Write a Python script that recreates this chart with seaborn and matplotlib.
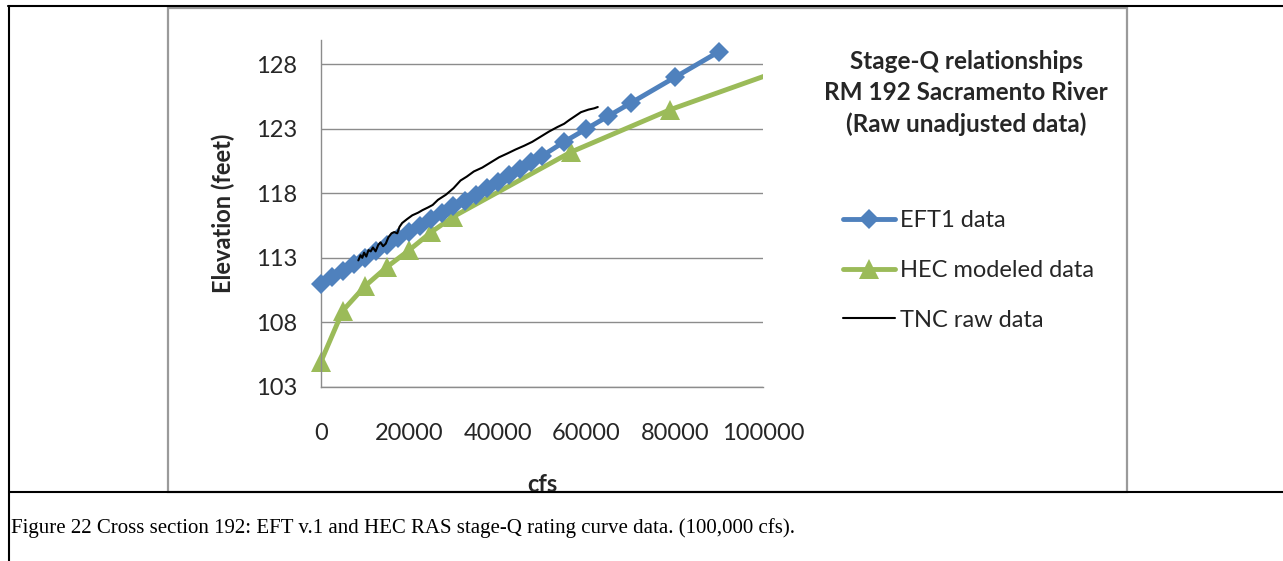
import matplotlib
matplotlib.use("Agg")
import matplotlib.pyplot as plt
from matplotlib.lines import Line2D
from matplotlib.patches import Rectangle
import seaborn as sns
import pandas as pd

# ---- data -------------------------------------------------------------
eft1_cfs = [0, 2500, 5000, 7500, 10000, 12500, 15000, 17500, 20000, 22500,
            25000, 27500, 30000, 32500, 35000, 37500, 40000, 42500, 45000,
            47500, 50000, 55000, 60000, 65000, 70000, 80000, 90000]
eft1_elev = [111.0, 111.5, 112.0, 112.5, 113.0, 113.5, 114.0, 114.5, 115.0,
             115.5, 116.0, 116.5, 117.0, 117.4, 117.9, 118.4, 118.9, 119.4,
             119.9, 120.4, 120.9, 122.0, 123.0, 124.0, 125.0, 127.0, 129.0]

hec_cfs = [0, 5000, 10000, 15000, 20000, 25000, 30000, 56500, 79000, 106000]
hec_elev = [104.9, 108.9, 110.8, 112.3, 113.6, 115.0, 116.2, 121.2, 124.5, 127.8]

tnc_cfs = [8500, 9000, 9400, 9800, 10300, 10800, 11300, 11800, 12400, 13000,
           13500, 14100, 14700, 15300, 16000, 16600, 17300, 17800, 18400,
           19500, 20700, 22000, 23000, 24200, 25300, 26500, 28300, 30000,
           31600, 33000, 34600, 36500, 38400, 40300, 42200, 44000, 46000,
           47800, 49700, 51600, 53500, 55000, 56200, 57500, 58800, 60500,
           61800, 62600]
tnc_elev = [112.8, 113.2, 113.0, 113.4, 113.1, 113.6, 113.5, 113.8, 113.5,
            114.0, 114.2, 113.9, 114.1, 114.6, 114.9, 115.0, 114.9, 115.4,
            115.7, 116.0, 116.3, 116.5, 116.7, 116.9, 117.1, 117.5, 117.9,
            118.4, 119.0, 119.3, 119.7, 120.0, 120.4, 120.8, 121.1, 121.4,
            121.7, 122.0, 122.4, 122.8, 123.15, 123.4, 123.7, 124.0, 124.3,
            124.5, 124.6, 124.7]

series_names = ["EFT1 data", "HEC modeled data", "TNC raw data"]
x_ticks = [0, 20000, 40000, 60000, 80000, 100000]
y_ticks = [103, 108, 113, 118, 123, 128]

title_lines = ["Stage-Q relationships", "RM 192 Sacramento River",
               "(Raw unadjusted data)"]
caption = ("Figure 22 Cross section 192: EFT v.1 and HEC RAS stage-Q rating "
           "curve data. (100,000 cfs).")

# ---- style ------------------------------------------------------------
sns.set_style("white")
plt.rcParams["font.family"] = ["Lato", "DejaVu Sans"]

BLUE = "#4F81BD"
GREEN = "#9BBB59"
GRID = "#8c8c8c"
TEXT = "#262626"

W, H = 1283, 561
fig = plt.figure(figsize=(W / 100, H / 100), dpi=100)
fig.patch.set_facecolor("white")


def fx(px):
    return px / W


def fy(py):
    return 1 - py / H


ax_left, ax_right, ax_top, ax_bottom = 320.7, 763.3, 40, 386.7
ax = fig.add_axes([fx(ax_left), fy(ax_bottom),
                   fx(ax_right - ax_left), (ax_bottom - ax_top) / H])

eft1 = pd.DataFrame({"cfs": eft1_cfs, "elev": eft1_elev})
hec = pd.DataFrame({"cfs": hec_cfs, "elev": hec_elev})
tnc = pd.DataFrame({"cfs": tnc_cfs, "elev": tnc_elev})

sns.lineplot(data=eft1, x="cfs", y="elev", ax=ax, color=BLUE, lw=3.5,
             marker="D", markersize=10, markeredgewidth=0, estimator=None,
             label=series_names[0], zorder=3)
eft1_line = ax.lines[-1]

sns.lineplot(data=hec, x="cfs", y="elev", ax=ax, color=GREEN, lw=3.5,
             marker="^", markersize=15, markeredgewidth=0, estimator=None,
             label=series_names[1], zorder=2)
hec_line = ax.lines[-1]

sns.lineplot(data=tnc, x="cfs", y="elev", ax=ax, color="black", lw=1.5,
             estimator=None, label=series_names[2], zorder=4)
tnc_line = ax.lines[-1]

# markers may overhang the left/bottom axis, but the modeled curve is cut
# at the right edge of the plotting area
clip = Rectangle((-0.1, -0.1), 1.1, 1.2, transform=ax.transAxes,
                 facecolor="none", edgecolor="none")
ax.add_patch(clip)
for ln in (eft1_line, hec_line, tnc_line):
    ln.set_clip_path(clip)

ax.set_xlim(0, 100000)
ax.set_ylim(103, 129.9)
ax.set_xticks(x_ticks)
ax.set_xticklabels([str(v) for v in x_ticks])
ax.set_yticks(y_ticks)
ax.set_yticklabels([str(v) for v in y_ticks])

ax.yaxis.grid(True, color=GRID, lw=1.0)
ax.xaxis.grid(False)
ax.set_axisbelow(True)
for side in ("top", "right"):
    ax.spines[side].set_visible(False)
for side in ("left", "bottom"):
    ax.spines[side].set_color(GRID)
    ax.spines[side].set_linewidth(1.0)

ax.tick_params(axis="both", direction="out", length=5, width=1.0,
               color=GRID, labelcolor=TEXT, labelsize=17)
ax.tick_params(axis="x", pad=21)
ax.tick_params(axis="y", pad=12)

ax.set_xlabel("cfs", fontsize=17, fontweight="bold", color=TEXT)
ax.set_ylabel("Elevation (feet)", fontsize=17, fontweight="bold", color=TEXT)
ax.xaxis.label.set_va("center")
ax.yaxis.label.set_va("center")
ax.xaxis.set_label_coords(0.5, (ax_bottom - 484) / (ax_bottom - ax_top))
ax.yaxis.set_label_coords((223 - ax_left) / (ax_right - ax_left), 0.5)

ax.legend(loc="upper left", bbox_to_anchor=(fx(843), fy(210)),
          bbox_transform=fig.transFigure, frameon=False, fontsize=17,
          handlelength=2.2, handletextpad=0.2, labelspacing=1.22,
          borderpad=0, borderaxespad=0, labelcolor=TEXT)

fig.text(fx(966), fy(93), "\n".join(title_lines), ha="center", va="center",
         fontsize=17.5, fontweight="bold", color=TEXT, linespacing=1.42)

# chart frame and surrounding table rules
fig.add_artist(Rectangle((fx(168), fy(492)), fx(1127 - 168), (492 - 8) / H,
                         transform=fig.transFigure, fill=False,
                         edgecolor="#9a9a9a", lw=1.6))
fig.add_artist(Line2D([fx(8), 1], [fy(6), fy(6)], transform=fig.transFigure,
                      color="black", lw=1.5))
fig.add_artist(Line2D([fx(9), fx(9)], [fy(6), 0], transform=fig.transFigure,
                      color="black", lw=1.5))
fig.add_artist(Line2D([fx(9), 1], [fy(492), fy(492)],
                      transform=fig.transFigure, color="black", lw=1.5))

fig.text(fx(11), fy(528), caption, ha="left", va="center",
         fontsize=15, family=["Liberation Serif", "DejaVu Serif"],
         color="black")

fig.savefig("out.png", dpi=100, facecolor="white")
